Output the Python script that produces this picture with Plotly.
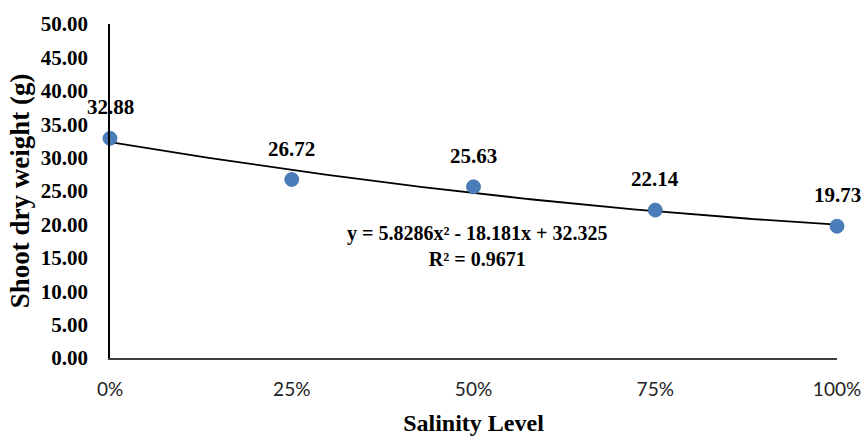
import numpy as np
import plotly.graph_objects as go

# Salinity treatments and measured shoot dry weight (g)
salinity_labels = ["0%", "25%", "50%", "75%", "100%"]
salinity_fraction = [0.0, 0.25, 0.5, 0.75, 1.0]
shoot_dry_weight = [32.88, 26.72, 25.63, 22.14, 19.73]

# Second-order polynomial trend: y = a*x^2 + b*x + c
trend_coeffs = [5.8286, -18.181, 32.325]
r_squared = 0.9671

y_ticks = [0, 5, 10, 15, 20, 25, 30, 35, 40, 45, 50]

serif = "Liberation Serif, Times New Roman, serif"
marker_blue = "#4a7ebb"

x_fit = np.linspace(0, 1, 200)
y_fit = np.polyval(trend_coeffs, x_fit)

fig = go.Figure()

fig.add_trace(go.Scatter(
    x=x_fit, y=y_fit, mode="lines",
    line=dict(color="black", width=1.8),
    hoverinfo="skip", showlegend=False,
))

fig.add_trace(go.Scatter(
    x=salinity_fraction, y=shoot_dry_weight, mode="markers",
    marker=dict(size=14, color=marker_blue,
                line=dict(color="#3f6fa8", width=0.8)),
    showlegend=False, cliponaxis=False,
))

# Value labels above each point
for xv, yv in zip(salinity_fraction, shoot_dry_weight):
    fig.add_annotation(
        x=xv, y=yv, text=f"<b>{yv:.2f}</b>", showarrow=False,
        yshift=31, font=dict(family=serif, size=21, color="black"),
    )

# Trendline equation and R²
a, b, c = trend_coeffs
eq_text = (f"<b>y = {a:.4f}x² - {abs(b):.3f}x + {c:.3f}</b><br>"
           f"<b>R² = {r_squared:.4f}</b>")
fig.add_annotation(
    x=0.505, y=16.8, xref="x", yref="y", text=eq_text, showarrow=False,
    align="center", font=dict(family=serif, size=20, color="black"),
)

fig.update_layout(
    width=865, height=436,
    margin=dict(l=109.5, r=28, t=24, b=78),
    plot_bgcolor="white", paper_bgcolor="white",
    xaxis=dict(
        range=[0, 1], tickmode="array", tickvals=salinity_fraction,
        ticktext=salinity_labels, showgrid=False, zeroline=False,
        showline=True, linecolor="#404040", linewidth=1.5,
        ticks="", ticklabelstandoff=13, automargin=False,
        tickfont=dict(family="Lato, Open Sans, sans-serif", size=19, color="#222222"),
        title=dict(text="<b>Salinity Level</b>", standoff=25,
                   font=dict(family=serif, size=24, color="black")),
    ),
    yaxis=dict(
        range=[0, 50], tickmode="array", tickvals=y_ticks,
        ticktext=[f"<b>{v:.2f}</b>" for v in y_ticks],
        showgrid=False, zeroline=False,
        showline=True, linecolor="black", linewidth=1.8,
        ticks="", ticklabelstandoff=16, automargin=False,
        tickfont=dict(family=serif, size=21, color="black"),
        title=dict(text="<b>Shoot dry weight (g)</b>", standoff=3,
                   font=dict(family=serif, size=27, color="black")),
    ),
)

fig.write_html("out.html")
